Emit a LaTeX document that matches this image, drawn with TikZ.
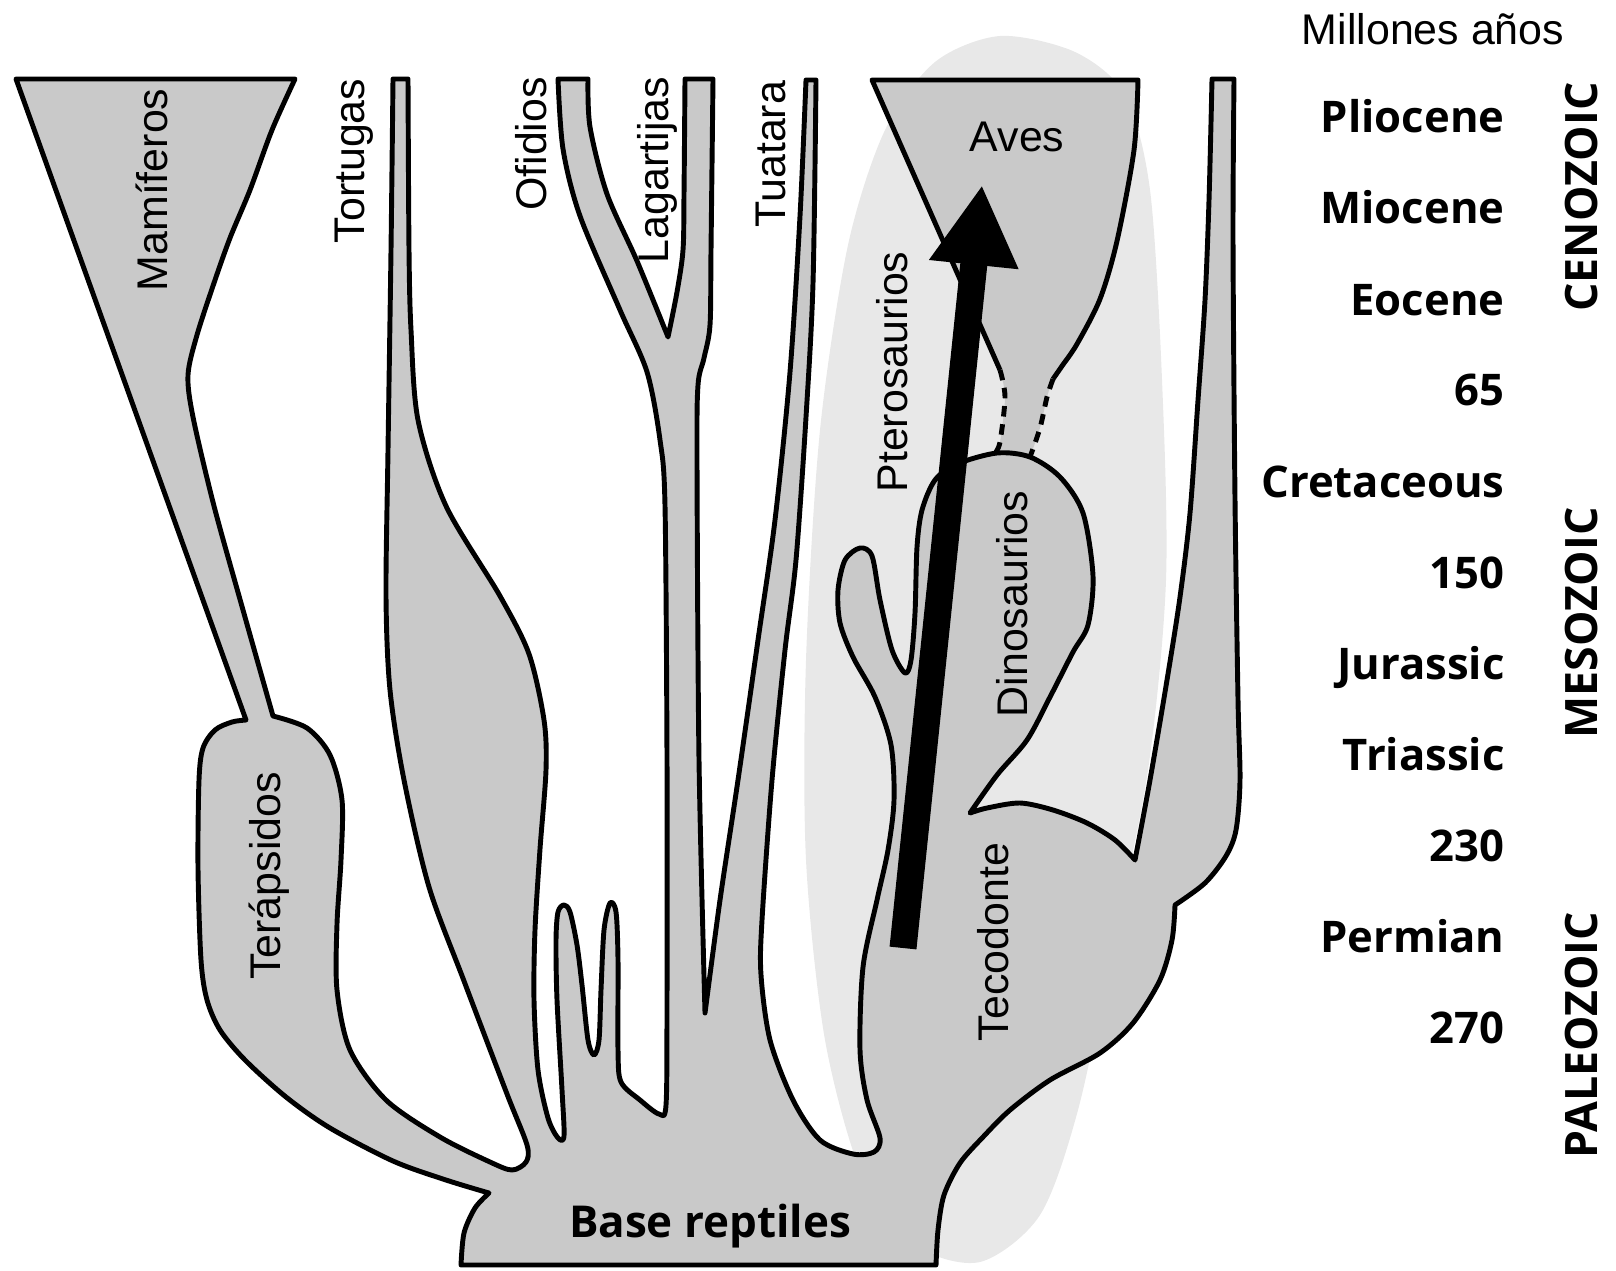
\documentclass[tikz,border=0pt]{standalone}
\usepackage{fontspec}
\setmainfont{Liberation Sans}
\newfontfamily\heavyfont{Open Sans}
\usepackage{tikz}
\usetikzlibrary{arrows.meta}

\definecolor{bodygray}{gray}{0.79}
\definecolor{haze}{gray}{0.91}

\begin{document}
\begin{tikzpicture}[x=0.01cm,y=-0.01cm,line width=1.4pt,line join=round,
  body/.style={fill=bodygray,draw=black},
  lab/.style={font=\fontsize{12.2}{14}\selectfont,rotate=90},
  labh/.style={font=\fontsize{12.2}{14}\selectfont},
  period/.style={font=\heavyfont\bfseries\fontsize{12.4}{15}\selectfont,anchor=base east,inner sep=0pt},
  era/.style={font=\heavyfont\bfseries\fontsize{12.7}{15}\selectfont,rotate=90},
  dashes/.style={dash pattern=on 3pt off 2.2pt}]
\useasboundingbox (0,0) rectangle (1616,1270);
% light halo behind the bird/dinosaur line
\fill[haze] plot[smooth cycle] coordinates {(1000,36) (1075,52) (1125,95) (1150,190) (1162,380) (1166,580)
  (1148,770) (1112,950) (1078,1110) (1040,1215) (980,1262) (915,1245) (862,1175) (825,1040)
  (806,860) (806,660) (820,430) (848,245) (885,130) (935,62)};
% aves funnel (fill first, outline later)
\fill[bodygray] (872,80) -- (1138,80)
  -- plot[smooth] coordinates {(1138,80) (1134,150) (1117,241) (1100,299) (1077,344) (1062,366) (1053,379)}
  -- plot[smooth] coordinates {(1053,379) (1047,397) (1040,428) (1030,457)}
  -- (995,453)
  -- plot[smooth] coordinates {(995,453) (1000,442) (1005,397) (1000,370)} -- cycle;
% whole body, clockwise from the bottom left of the base
\filldraw[body] plot[smooth] coordinates {(461,1265) (464,1233) (475,1208) (489,1193)}
  % terapsidos
  -- plot[smooth] coordinates {(489,1193) (446,1180) (393,1161) (330,1128) (286,1097) (245,1060) (220,1030)
     (207,1000) (201,960) (198,868) (199,780) (203,748) (215,730) (232,722) (246,720)}
  % mamiferos
  -- (16,79) -- (295,79)
  -- plot[smooth] coordinates {(295,79) (272,130) (250,190) (230,238) (214,283) (197,335) (188,375) (193,417)
     (214,506) (243,610) (273,716)}
  -- plot[smooth] coordinates {(273,716) (307,728) (330,755) (342,800) (341,860) (337,924) (337,990) (350,1050)
     (386,1100) (440,1137) (490,1162) (512,1170) (526,1162) (527,1145) (507,1094) (464,981) (429,887)
     (404,780) (390,690) (386,596) (388,450) (391,250) (393,79)}
  % tortugas and the two small fingers
  -- (408,79)
  -- plot[smooth] coordinates {(408,79) (409,250) (411,330) (418,420) (446,506) (500,596) (529,654) (544,720)
     (546,770) (540,849) (535,930) (534,1000) (538,1070) (548,1118) (558,1138) (564,1136) (562,1090)
     (557,1000) (556,940) (558,912) (564,905) (570,912) (577,945) (582,985) (588,1040) (594,1055)
     (599,1040) (601,990) (604,930) (610,903) (616,912) (618,960) (618,1050) (621,1082) (640,1100)
     (659,1114) (666,1105) (667,1000) (667,760) (665,506) (660,440) (647,372) (620,310) (580,216)
     (563,149) (558,79)}
  % ofidios / lagartijas
  -- (588,79)
  -- plot[smooth] coordinates {(588,79) (590,127) (607,194) (637,261) (668,337)}
  -- plot[smooth] coordinates {(668,337) (677,292) (683,250) (684,194) (685,79)}
  -- (713,79)
  -- plot[smooth] coordinates {(713,79) (711,250) (710,325) (704,358) (698,385) (697,462) (699,760) (705,1013)}
  % tuatara
  -- plot[smooth] coordinates {(705,1013) (720,900) (738,780) (758,640) (775,520) (790,372) (800,216) (806,80)}
  -- (816,80)
  -- plot[smooth] coordinates {(816,80) (813,283) (806,417) (796,560) (785,650) (772,780) (762,920) (761,975)
     (770,1040) (793,1100) (820,1140) (853,1154) (874,1152) (880,1138) (867,1100) (860,1050) (863,967)
     (877,900) (888,850) (894,800) (891,745) (875,697) (853,657) (840,623) (838,590) (845,560) (860,548)
     (872,556) (880,600) (892,650) (905,673) (911,660) (915,613) (917,547) (922,510) (935,480) (957,464)
     (997,453) (1030,457) (1060,477) (1083,513) (1093,576) (1088,625) (1073,652) (1050,697) (1027,740)
     (997,775) (970,813)}
  % tecodonte top and the right branch
  -- plot[smooth] coordinates {(970,813) (987,808) (1020,803) (1053,810) (1087,823) (1115,840) (1135,860)}
  -- plot[smooth] coordinates {(1135,860) (1150,780) (1167,680) (1180,597) (1190,513) (1198,400) (1205,300)
     (1209,200) (1212,79)}
  -- (1234,79)
  -- plot[smooth] coordinates {(1234,79) (1233,240) (1235,500) (1238,700) (1240,780) (1236,830) (1226,856)
     (1205,883) (1175,905)}
  -- plot[smooth] coordinates {(1175,905) (1172,940) (1160,980) (1133,1023) (1100,1053) (1050,1080)
     (1010,1110) (983,1137) (960,1163) (944,1195) (938,1230) (936,1265)}
  -- cycle;
% aves outline and the dashed link
\draw (1000,370) -- (872,80) -- (1138,80)
  -- plot[smooth] coordinates {(1138,80) (1134,150) (1117,241) (1100,299) (1077,344) (1062,366) (1053,379)};
\draw[dashes] plot[smooth] coordinates {(1000,370) (1005,397) (1000,442) (995,453)};
\draw[dashes] plot[smooth] coordinates {(1053,379) (1047,397) (1040,428) (1030,457)};
% evolution arrow
\coordinate (arrtail) at (903,948);
\coordinate (arrtip) at (982,185);
\draw[line width=0.27cm,-{Triangle[width=0.84cm,length=0.8cm]}] (arrtail) -- (arrtip);
% branch labels
\node[lab] (mamiferos) at (152,190) {Mamíferos};
\node[lab] (tortugas) at (354,161) {Tortugas};
\node[lab] (ofidios) at (531,144) {Ofidios};
\node[lab] (lagartijas) at (657,170) {Lagartijas};
\node[lab] (tuatara) at (771,154) {Tuatara};
\node[lab] (pterosaurios) at (892,372) {Pterosaurios};
\node[lab] (dinosaurios) at (1012,604) {Dinosaurios};
\node[lab] (tecodonte) at (993,942) {Tecodonte};
\node[lab] (terapsidos) at (269,876) {Terápsidos};
\node[labh] (aves) at (1017,137) {Aves};
\node[font=\heavyfont\bfseries\fontsize{12.5}{15}\selectfont,anchor=base] (base) at (710,1237) {Base reptiles};
% time scale
\node[labh,anchor=base] (millones) at (1433,45) {Millones años};
\foreach \txt [count=\i from 0] in {Pliocene,Miocene,Eocene,65,Cretaceous,150,Jurassic,Triassic,230,Permian,270}
  \node[period] (per\i) at (1507,{133+91*\i}) {\txt};
\foreach \era/\yc in {CENOZOIC/197,MESOZOIC/623,PALEOZOIC/1035}
  \node[era] (\era) at (1581,\yc) {\era};
\end{tikzpicture}
\end{document}
